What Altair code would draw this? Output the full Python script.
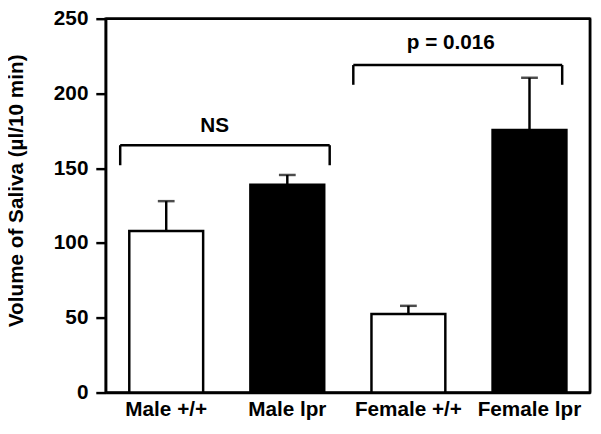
import altair as alt
import pandas as pd

groups = ["Male +/+", "Male lpr", "Female +/+", "Female lpr"]
genotype = ["wt", "lpr", "wt", "lpr"]
means = [108, 139, 52.5, 175.5]
upper = [128, 145.5, 58, 210.5]

y_ticks = [0, 50, 100, 150, 200, 250]

# significance brackets (x in category units, 0..4)
br_x1 = [0.12, 2.045]
br_x2 = [1.85, 3.77]
br_y = [165.4, 219.0]
br_leg = [152.0, 205.8]
br_text = ["NS", "p = 0.016"]
br_text_x = [0.9, 2.85]
br_text_y = [178, 234]

# plot frame (top and right edges), in data units
frame_x1 = [0, 4]
frame_x2 = [4, 4]
frame_y1 = [250, 0]
frame_y2 = [250, 250]

FONT = "Liberation Sans"
W, H = 491, 379

df = pd.DataFrame({"group": groups, "geno": genotype, "mean": means, "upper": upper})
br = pd.DataFrame({"x1": br_x1, "x2": br_x2, "y": br_y, "leg": br_leg})
legs = pd.DataFrame({"x": br_x1 + br_x2, "y": br_y + br_y, "leg": br_leg + br_leg})
txt = pd.DataFrame({"t": br_text, "x": br_text_x, "y": br_text_y})
frame = pd.DataFrame({"x1": frame_x1, "x2": frame_x2, "y1": frame_y1, "y2": frame_y2})

yscale = alt.Scale(domain=[0, 250], nice=False, zero=True)
xband = alt.Scale(domain=groups, paddingInner=0.39, paddingOuter=0.195)

base = alt.Chart(df)

bars = base.mark_bar(stroke="black", strokeWidth=2.5).encode(
    x=alt.X("group:N", scale=xband, sort=groups,
            axis=alt.Axis(title=None, ticks=False, labelAngle=0, labelPadding=6,
                          labelFontSize=21, labelFont=FONT, labelFontWeight="bold",
                          labelColor="black", domainColor="black", domainWidth=2.5,
                          labelOverlap=False, labelLimit=0)),
    y=alt.Y("mean:Q", scale=yscale,
            axis=alt.Axis(values=y_ticks, grid=False, tickSize=10, tickWidth=2.5,
                          tickColor="black", domainColor="black", domainWidth=2.5,
                          labelFontSize=21, labelFont=FONT, labelFontWeight="bold",
                          labelColor="black", labelPadding=8,
                          title="Volume of Saliva (µl/10 min)",
                          titleFontSize=21, titleFont=FONT, titleFontWeight="bold",
                          titleColor="black", titleAngle=270, titleX=-84, titleY=174,
                          titleAlign="center", titleBaseline="alphabetic")),
    fill=alt.Fill("geno:N", scale=alt.Scale(domain=["wt", "lpr"], range=["white", "black"]),
                  legend=None),
)

err = base.mark_rule(color="black", strokeWidth=2.5).encode(
    x=alt.X("group:N", scale=xband, sort=groups),
    y=alt.Y("mean:Q", scale=yscale),
    y2="upper:Q",
)

caps = base.mark_tick(color="black", thickness=2.5, size=17, orient="horizontal").encode(
    x=alt.X("group:N", scale=xband, sort=groups),
    y=alt.Y("upper:Q", scale=yscale),
)

main = alt.layer(bars, err, caps)

xq = alt.Scale(domain=[0, 4], nice=False, zero=False)

hrule = alt.Chart(br).mark_rule(color="black", strokeWidth=2.5).encode(
    x=alt.X("x1:Q", scale=xq, axis=None),
    x2="x2:Q",
    y=alt.Y("y:Q", scale=yscale),
)
vlegs = alt.Chart(legs).mark_rule(color="black", strokeWidth=2.5).encode(
    x=alt.X("x:Q", scale=xq, axis=None),
    y=alt.Y("leg:Q", scale=yscale),
    y2="y:Q",
)
labels = alt.Chart(txt).mark_text(font=FONT, fontSize=21, fontWeight="bold",
                                  color="black", baseline="middle").encode(
    x=alt.X("x:Q", scale=xq, axis=None),
    y=alt.Y("y:Q", scale=yscale),
    text="t:N",
)
frame_rules = alt.Chart(frame).mark_rule(color="black", strokeWidth=2.5).encode(
    x=alt.X("x1:Q", scale=xq, axis=None),
    x2="x2:Q",
    y=alt.Y("y1:Q", scale=yscale),
    y2="y2:Q",
)

annot = alt.layer(hrule, vlegs, labels, frame_rules)

chart = alt.layer(main, annot).resolve_scale(x="independent").properties(
    width=W, height=H,
    background="white",
    autosize=alt.AutoSizeParams(type="none"),
    padding={"left": 99, "top": 8, "right": 3, "bottom": 27},
).configure_view(stroke="black", strokeWidth=2.5)

chart.save("out.html", embed_options={"renderer": "svg", "actions": False})
